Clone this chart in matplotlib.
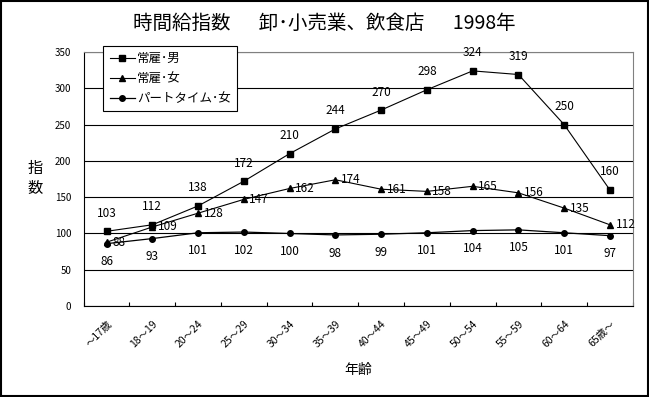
import matplotlib
matplotlib.use('Agg')
import matplotlib.pyplot as plt
import numpy as np

plt.rcParams['font.family'] = ['Noto Sans CJK JP', 'DejaVu Sans']

ages = ['～17歳', '18～19', '20～24', '25～29', '30～34', '35～39', '40～44',
        '45～49', '50～54', '55～59', '60～64', '65歳～']
male = [103, 112, 138, 172, 210, 244, 270, 298, 324, 319, 250, 160]
female = [88, 109, 128, 147, 162, 174, 161, 158, 165, 156, 135, 112]
part = [86, 93, 101, 102, 100, 98, 99, 101, 104, 105, 101, 97]

fig = plt.figure(figsize=(6.49, 3.97), dpi=100)
ax = fig.add_axes([0.129, 0.229, 0.846, 0.640])
x = np.arange(len(ages))

ax.plot(x, male, color='black', lw=0.8, marker='s', ms=5, label='常雇･男')
ax.plot(x, female, color='black', lw=0.8, marker='^', ms=5, label='常雇･女')
ax.plot(x, part, color='black', lw=0.9, marker='o', ms=4, label='パートタイム･女')

for i in range(len(ages)):
    ax.annotate(str(male[i]), (x[i], male[i]), xytext=(0, 13), textcoords='offset points',
                ha='center', va='center', fontsize=8.5)
    ax.annotate(str(female[i]), (x[i], female[i]), xytext=(4, 0), textcoords='offset points',
                ha='left', va='center', fontsize=8.5)
    ax.annotate(str(part[i]), (x[i], part[i]), xytext=(0, -13), textcoords='offset points',
                ha='center', va='center', fontsize=8.5)

ax.set_xlim(-0.5, len(ages) - 0.5)
ax.set_ylim(0, 350)
ax.set_yticks(range(0, 351, 50))
ax.yaxis.grid(True, color='black', lw=0.8)
ax.set_axisbelow(True)
ax.set_xticks(np.arange(len(ages) + 1) - 0.5, minor=False)
ax.set_xticklabels([])
ax.set_xticks(x, minor=True)
ax.set_xticklabels(ages, minor=True, rotation=45, ha='right', va='top', fontsize=7.5,
                   rotation_mode='anchor')
ax.tick_params(axis='x', which='minor', length=0, pad=9)
ax.tick_params(axis='x', which='major', direction='in', length=3)
ax.tick_params(axis='y', length=0, labelsize=7, pad=9)

ax.spines['top'].set_color('gray')
ax.spines['right'].set_color('gray')

ax.set_xlabel('年齢', fontsize=10, labelpad=10)
fig.text(0.054, 0.55, '指\n数', fontsize=11, ha='center', va='center', linespacing=1.2)
fig.text(0.5, 0.94, '時間給指数　  卸･小売業、飲食店　  1998年', fontsize=14,
         ha='center', va='center')

leg = ax.legend(loc='upper left', bbox_to_anchor=(0.036, 1.024), fontsize=9, frameon=True,
                fancybox=False, edgecolor='black', framealpha=1, borderpad=0.5,
                borderaxespad=0, handlelength=2.0, handletextpad=0.2, labelspacing=0.55)
leg.get_frame().set_linewidth(0.8)

border = plt.Rectangle((0.002, 0.003), 0.996, 0.994, transform=fig.transFigure,
                       fill=False, edgecolor='black', lw=1.5)
fig.patches.append(border)

fig.savefig('out.png', dpi=100)
